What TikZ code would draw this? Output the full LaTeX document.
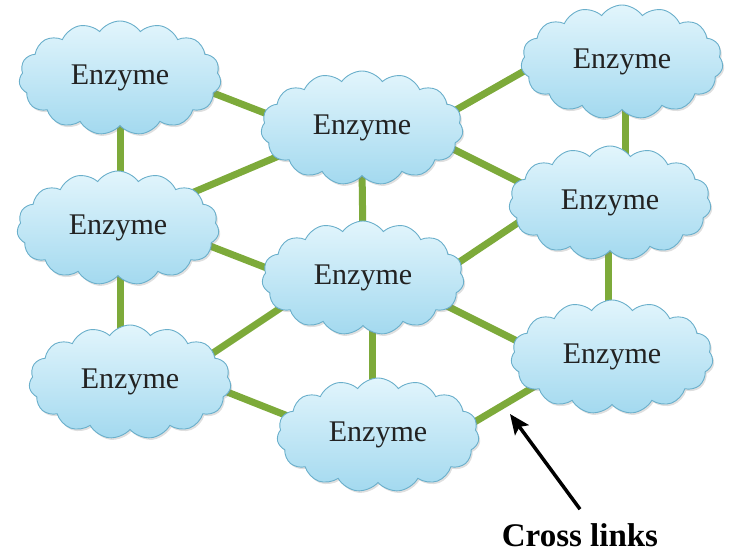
\documentclass[tikz,border=0pt]{standalone}
\usepackage{fontspec}
\setmainfont{Liberation Serif}
\usetikzlibrary{positioning,arrows.meta,shapes.symbols,backgrounds,calc,shadows}
\definecolor{cloudtop}{HTML}{E2F5FC}
\definecolor{cloudbot}{HTML}{A3D9EF}
\definecolor{cloudline}{HTML}{6AAFCB}
\definecolor{linkgreen}{HTML}{7DAA3A}
\definecolor{inktext}{HTML}{222222}

\begin{document}
\begin{tikzpicture}[
  x=1pt, y=-1pt,
  enzyme/.style={cloud, cloud puffs=15, cloud puff arc=110, cloud ignores aspect,
                 draw=cloudline, line width=0.9pt, top color=cloudtop, bottom color=cloudbot,
                 minimum width=202pt, minimum height=114pt, inner sep=0pt,
                 text=inktext, font=\fontsize{30}{36}\selectfont,
                 drop shadow={opacity=0.25, shadow xshift=1.5pt, shadow yshift=-2pt}},
  link/.style={line width=7pt, linkgreen},
  pointer/.style={-{Stealth[length=20pt, width=17pt, inset=4pt]}, line width=3.5pt, black},
  caption/.style={font=\fontsize{33}{38}\selectfont\bfseries, text=black, inner sep=0pt}
]
\useasboundingbox (0,0) rectangle (729,552);
% ---------------- Enzymes ----------------
\node[enzyme] (e1) at (120,78)  {Enzyme};
\node[enzyme] (e2) at (362,128) {Enzyme};
\node[enzyme] (e3) at (622,62)  {Enzyme};
\node[enzyme] (e4) at (118,228) {Enzyme};
\node[enzyme] (e5) at (363,278) {Enzyme};
\node[enzyme] (e6) at (610,203) {Enzyme};
\node[enzyme] (e7) at (130,382) {Enzyme};
\node[enzyme] (e8) at (378,435) {Enzyme};
\node[enzyme] (e9) at (612,357) {Enzyme};
% ---------------- Cross links ----------------
\begin{scope}[on background layer]
  \draw[link] ($(e1)+(0,40)$)   -- ($(e4)+(2,-38)$);
  \draw[link] ($(e4)+(2,47)$)   -- ($(e7)+(-10,-37)$);
  \draw[link] ($(e1)+(75,8)$)   -- ($(e2)+(-69,-4)$);
  \draw[link] ($(e4)+(69,-33)$) -- ($(e2)+(-69,22)$);
  \draw[link] ($(e4)+(74,11)$)  -- ($(e5)+(-68,1)$);
  \draw[link] ($(e7)+(74,-23)$) -- ($(e5)+(-72,23)$);
  \draw[link] ($(e7)+(82,4)$)   -- ($(e8)+(-70,-11)$);
  \draw[link] ($(e2)+(0,40)$)   -- ($(e5)+(0,-35)$);
  \draw[link] ($(e5)+(9,40)$)   -- ($(e8)+(-6,-40)$);
  \draw[link] ($(e2)+(71,-5)$)  -- ($(e3)+(-75,-4)$);
  \draw[link] ($(e2)+(71,11)$)  -- ($(e6)+(-73,-12)$);
  \draw[link] ($(e3)+(3,40)$)   -- ($(e6)+(15,-35)$);
  \draw[link] ($(e5)+(71,1)$)   -- ($(e6)+(-79,11)$);
  \draw[link] ($(e5)+(70,21)$)  -- ($(e9)+(-75,-6)$);
  \draw[link] ($(e6)+(-2,40)$)  -- ($(e9)+(-4,-40)$);
  \draw[link] ($(e8)+(78,-2)$)  -- ($(e9)+(-75,28)$);
\end{scope}
% ---------------- Label ----------------
\node[caption] (xl) at (580,535) {Cross links};
\coordinate (tip) at (510,414);
\draw[pointer] ([yshift=14pt]xl.north) -- (tip);
\end{tikzpicture}
\end{document}
